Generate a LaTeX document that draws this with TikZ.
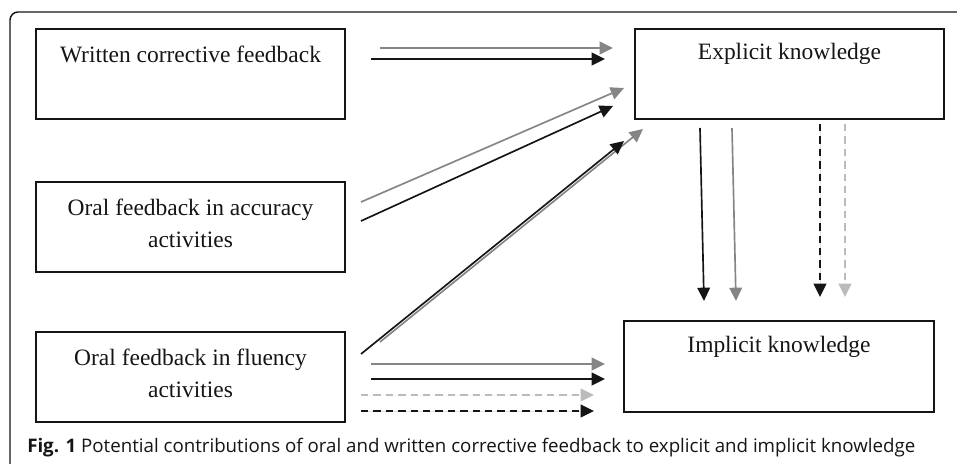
\documentclass[tikz,border=0pt]{standalone}
\usepackage{fontspec}
\setmainfont{Liberation Serif}
\newfontfamily\capfont{Open Sans}
\usetikzlibrary{arrows.meta}
\definecolor{dk}{HTML}{151515}
\definecolor{md}{HTML}{858585}
\definecolor{lt}{HTML}{BBBBBB}
\begin{document}
\begin{tikzpicture}[x=0.75pt,y=-0.75pt,
  box/.style={draw=dk,line width=0.9pt,minimum width=309*0.75pt,minimum height=90*0.75pt,inner sep=0pt},
  lbl/.style={inner sep=0pt,font=\fontsize{17.6pt}{21pt}\selectfont,text=dk,align=center},
  arr/.style={line width=1.25pt,-{Triangle[length=10pt,width=9.5pt]}},
  blk/.style={arr,draw=dk,fill=dk},
  gry/.style={arr,draw=md,fill=md},
  lgr/.style={arr,draw=lt,fill=lt},
  dsh/.style={dash pattern=on 5.5pt off 3.8pt}]
\useasboundingbox (0,0) rectangle (957,464);
% frame
\draw[line width=1.1pt,draw=dk,rounded corners=6pt] (10,470) -- (10,12) -- (962,12);
% boxes
\node[box] (w) at (190.5,74) {};
\node[lbl] (wt) at (190.5,54) {Written corrective feedback};
\node[box] (a) at (190.5,227) {};
\node[lbl] (at) at (190.5,223) {Oral feedback in accuracy\\[3pt]activities};
\node[box] (f) at (190.5,377) {};
\node[lbl] (ft) at (190.5,373) {Oral feedback in fluency\\[3pt]activities};
\node[box,minimum width=309*0.75pt] (e) at (789.5,74) {};
\node[lbl] (et) at (789.5,54) {Explicit knowledge};
\node[box,minimum width=310*0.75pt,minimum height=91*0.75pt] (i) at (779,366.5) {};
\node[lbl] (it) at (779,347) {Implicit knowledge};
% written -> explicit
\draw[gry] (380,48) -- (613,48);
\draw[blk] (371,59) -- (605,59);
% accuracy -> explicit
\draw[gry] (361,202) -- (624,88);
\draw[blk] (361,221) -- (613,106);
% fluency -> explicit
\draw[gry] (380,342) -- (643,129);
\draw[blk] (361,354) -- (624,141);
% fluency -> implicit
\draw[gry] (371,364) -- (605,364);
\draw[blk] (371,379) -- (605,379);
\draw[lgr,dsh] (361,395) -- (594,395);
\draw[blk,dsh] (361,411) -- (594,411);
% explicit -> implicit
\draw[blk] (700,128) -- (704,301);
\draw[gry] (732,128) -- (736,301);
\draw[blk,dsh] (820,124) -- (820,297);
\draw[lgr,dsh] (845,124) -- (845,297);
% caption
\node[anchor=west,inner sep=0pt,text=dk] (cap) at (27,448) {\resizebox{666pt}{!}{\capfont\fontsize{13pt}{15pt}\selectfont\textbf{Fig. 1} Potential contributions of oral and written corrective feedback to explicit and implicit knowledge}};
\end{tikzpicture}
\end{document}
